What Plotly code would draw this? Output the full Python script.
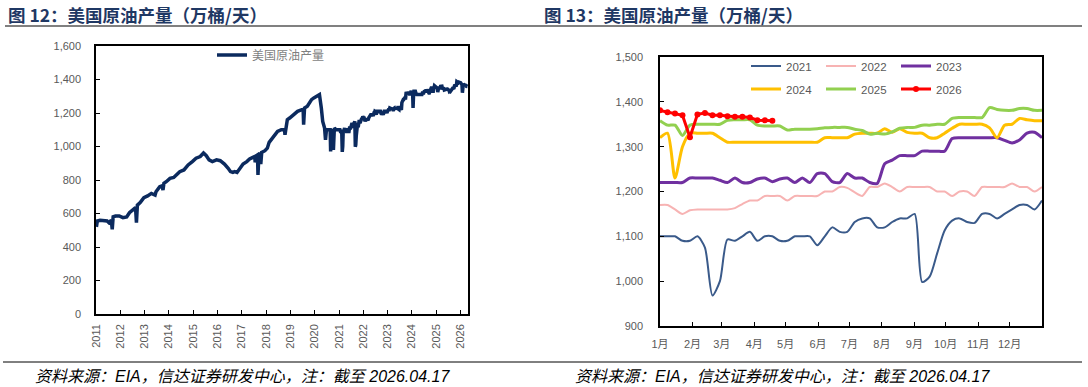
import plotly.graph_objects as go
import pandas as pd

# ---------------- data ----------------
# Left chart: weekly US crude production 2011-2020 (万桶/天)
hist_dates = [
    "2011-01-07", "2011-01-21", "2011-03-04", "2011-05-06", "2011-06-17", "2011-07-15", "2011-08-19",
    "2011-09-02", "2011-09-16", "2011-10-21", "2011-12-16", "2012-02-10", "2012-04-06", "2012-05-18",
    "2012-07-06", "2012-08-17", "2012-08-31", "2012-09-14", "2012-10-26", "2012-12-21", "2013-02-15",
    "2013-04-12", "2013-06-07", "2013-06-21", "2013-08-16", "2013-09-20", "2013-10-04", "2013-10-18",
    "2013-11-22", "2014-01-17", "2014-03-14", "2014-04-25", "2014-06-13", "2014-08-15", "2014-10-17",
    "2014-12-19", "2015-02-13", "2015-04-17", "2015-06-05", "2015-07-17", "2015-08-28", "2015-10-16",
    "2015-12-18", "2016-02-12", "2016-04-15", "2016-06-10", "2016-07-15", "2016-08-19", "2016-09-16",
    "2016-10-21", "2016-11-25", "2017-01-20", "2017-03-17", "2017-04-28", "2017-06-16", "2017-07-14",
    "2017-07-21", "2017-08-04", "2017-08-25", "2017-09-01", "2017-09-15", "2017-10-06", "2017-10-13",
    "2017-10-27", "2017-12-15", "2018-01-19", "2018-02-16", "2018-03-16", "2018-04-20", "2018-05-18",
    "2018-06-22", "2018-08-17", "2018-10-05", "2018-10-12", "2018-10-26", "2018-11-16", "2018-12-21",
    "2019-02-15", "2019-04-19", "2019-06-21", "2019-07-12", "2019-07-19", "2019-08-02", "2019-09-13",
    "2019-10-18", "2019-11-15", "2019-12-20", "2020-01-24", "2020-02-21", "2020-03-13", "2020-04-10",
    "2020-05-01", "2020-05-29", "2020-06-12", "2020-06-26", "2020-07-17", "2020-08-21", "2020-08-28",
    "2020-09-11", "2020-10-02", "2020-10-09", "2020-10-23", "2020-11-20", "2020-12-25",
]
hist_vals = [
    520, 555, 560, 560, 555, 545, 560,
    505, 580, 585, 585, 575, 580, 605,
    625, 635, 545, 650, 665, 695, 705,
    720, 710, 730, 760, 765, 740, 780,
    790, 810, 815, 830, 850, 860, 890,
    910, 930, 940, 961, 945, 920, 910,
    920, 915, 895, 870, 850, 845, 850,
    845, 865, 895, 910, 925, 935, 940,
    905, 945, 950, 830, 950, 955, 895,
    965, 975, 990, 1025, 1040, 1055, 1070,
    1090, 1100, 1100, 1070, 1110, 1160, 1170,
    1190, 1210, 1220, 1220, 1130, 1230, 1240,
    1260, 1280, 1290, 1300, 1310, 1310, 1230,
    1150, 1110, 1040, 1100, 1100, 1100, 970,
    1090, 1100, 980, 1110, 1100, 1100,
]

# Right chart: weekly production by year (week 1..52)
years = ["2021", "2022", "2023", "2024", "2025", "2026"]
v2021 = [1100, 1100, 1100, 1090, 1090, 1100, 1075, 968, 1000, 1093, 1090, 1100, 1110, 1090, 1100, 1100,
         1090, 1090, 1100, 1100, 1100, 1080, 1100, 1120, 1110, 1110, 1132, 1140, 1140, 1120, 1120, 1132,
         1140, 1140, 1150, 998, 1010, 1062, 1113, 1135, 1140, 1132, 1130, 1150, 1150, 1140, 1150, 1160,
         1170, 1170, 1160, 1180]
v2022 = [1170, 1170, 1160, 1150, 1158, 1160, 1160, 1160, 1160, 1160, 1163, 1172, 1180, 1180, 1190, 1190,
         1190, 1180, 1190, 1190, 1190, 1190, 1200, 1200, 1210, 1208, 1198, 1190, 1210, 1210, 1218, 1210,
         1200, 1210, 1210, 1210, 1210, 1200, 1200, 1190, 1200, 1200, 1190, 1210, 1210, 1210, 1210, 1218,
         1210, 1210, 1200, 1210]
v2023 = [1220, 1220, 1220, 1220, 1230, 1230, 1230, 1230, 1225, 1220, 1230, 1220, 1220, 1228, 1230, 1222,
         1228, 1230, 1220, 1230, 1220, 1240, 1240, 1222, 1220, 1240, 1230, 1230, 1220, 1218, 1262, 1270,
         1280, 1280, 1280, 1290, 1290, 1290, 1290, 1318, 1320, 1320, 1320, 1320, 1320, 1320, 1314, 1308,
         1315, 1330, 1332, 1320]
v2024 = [1320, 1330, 1230, 1300, 1330, 1330, 1330, 1330, 1320, 1310, 1310, 1310, 1310, 1310, 1310, 1310,
         1310, 1310, 1310, 1310, 1310, 1310, 1320, 1320, 1320, 1320, 1328, 1330, 1330, 1330, 1340, 1332,
         1340, 1332, 1330, 1330, 1320, 1320, 1330, 1341, 1350, 1350, 1350, 1350, 1342, 1320, 1348, 1350,
         1363, 1360, 1358, 1358]
v2025 = [1358, 1348, 1348, 1325, 1348, 1350, 1350, 1350, 1350, 1359, 1360, 1360, 1360, 1348, 1346, 1346,
         1346, 1337, 1339, 1339, 1339, 1340, 1342, 1343, 1343, 1343, 1339, 1336, 1328, 1330, 1328, 1333,
         1341, 1343, 1343, 1348, 1348, 1350, 1350, 1363, 1365, 1365, 1365, 1365, 1387, 1383, 1381, 1381,
         1385, 1385, 1381, 1381]
v2026 = [1381, 1377, 1374, 1370, 1321, 1372, 1375, 1370, 1370, 1368, 1367, 1367, 1365, 1359, 1359, 1358]
series = [v2021, v2022, v2023, v2024, v2025, v2026]
colors = ["#3A5A8A", "#F7B3B3", "#7030A0", "#FFC000", "#92D050", "#FF0000"]
widths = [2, 2, 3, 3, 3, 3]

month_labels = ["1月", "2月", "3月", "4月", "5月", "6月", "7月", "8月", "9月", "10月", "11月", "12月"]
year_ticks = [str(y) for y in range(2011, 2027)]

title_left = "图 12：美国原油产量（万桶/天）"
title_right = "图 13：美国原油产量（万桶/天）"
source_text = "资料来源：EIA，信达证券研发中心，注：截至 2026.04.17"
left_name = "美国原油产量"

# ---------------- helpers ----------------
W, H = 1088, 387
def px(x):
    return x / W
def py(y):
    return 1 - y / H

def fridays(year, n):
    first = pd.Timestamp(int(year), 1, 1)
    first += pd.Timedelta(days=(4 - first.weekday()) % 7)
    return list(pd.date_range(first, periods=n, freq="7D"))

# left full series
left_x = list(pd.to_datetime(hist_dates))
left_y = list(hist_vals)
for yr, vals in zip(years, series):
    left_x += fridays(yr, len(vals))
    left_y += vals

FONT = "Liberation Sans, Noto Sans CJK SC, sans-serif"
GRAY = "#595959"

fig = go.Figure()
fig.add_trace(go.Scatter(
    x=left_x, y=left_y, mode="lines", name=left_name,
    line=dict(color="#0B2A5E", width=3.5), xaxis="x", yaxis="y", legend="legend"))

for yr, vals, c, w in zip(years, series, colors, widths):
    wk = list(range(1, len(vals) + 1))
    if yr == "2026":
        fig.add_trace(go.Scatter(
            x=wk, y=vals, mode="lines+markers", name=yr,
            line=dict(color=c, width=w), marker=dict(color=c, size=6),
            xaxis="x2", yaxis="y2", legend="legend3"))
    else:
        fig.add_trace(go.Scatter(
            x=wk, y=vals, mode="lines", name=yr,
            line=dict(color=c, width=w, shape="spline", smoothing=0.7),
            xaxis="x2", yaxis="y2",
            legend="legend2" if yr in ("2021", "2022", "2023") else "legend3"))

# month tick positions on the week axis
ms = pd.date_range("2023-01-01", periods=12, freq="MS")
month_pos = [1 + (d.dayofyear - 1) * 51 / 365 for d in ms]

axis_common = dict(showline=True, mirror=True, linecolor="black", linewidth=1.5,
                   ticks="inside", ticklen=4, tickcolor="black", showgrid=False,
                   zeroline=False, automargin=False,
                   tickfont=dict(family=FONT, size=11, color=GRAY))

fig.update_layout(
    template="none",
    width=W, height=H, margin=dict(l=0, r=0, t=0, b=0, pad=0, autoexpand=False),
    paper_bgcolor="white", plot_bgcolor="white",
    xaxis=dict(domain=[px(96), px(468)], type="date",
               range=["2011-01-01", "2026-04-24"],
               tickvals=[pd.Timestamp(int(y), 1, 1) for y in year_ticks], ticktext=year_ticks,
               tickangle=-90, ticklabelstandoff=4, anchor="y", **axis_common),
    yaxis=dict(domain=[py(314), py(46)], range=[0, 1600], dtick=200, tickformat=",d",
               ticklabelstandoff=11, anchor="x", **axis_common),
    xaxis2=dict(domain=[px(660), px(1042)], range=[1, 52], ticklabelstandoff=7,
                tickvals=month_pos, ticktext=month_labels, anchor="y2", **axis_common),
    yaxis2=dict(domain=[py(326), py(57)], range=[900, 1500], dtick=100, tickformat=",d",
                ticklabelstandoff=13, anchor="x2", **axis_common),
    legend=dict(orientation="h", x=px(212), y=py(55), xanchor="left", yanchor="middle",
                bgcolor="rgba(0,0,0,0)", borderwidth=0,
                font=dict(family="Noto Sans CJK SC", size=12, color="#7F7F7F")),
    legend2=dict(orientation="h", x=px(746), y=py(66), xanchor="left", yanchor="middle",
                 bgcolor="rgba(0,0,0,0)", borderwidth=0, entrywidth=30, entrywidthmode="pixels",
                 font=dict(family=FONT, size=11.5, color=GRAY)),
    legend3=dict(orientation="h", x=px(746), y=py(89), xanchor="left", yanchor="middle",
                 bgcolor="rgba(0,0,0,0)", borderwidth=0, entrywidth=30, entrywidthmode="pixels",
                 font=dict(family=FONT, size=11.5, color=GRAY)),
    showlegend=True,
)

# titles
for txt, x in [(title_left, 6), (title_right, 542)]:
    fig.add_annotation(text="<b>" + txt + "</b>", x=px(x), y=py(15), xref="paper", yref="paper",
                       xanchor="left", yanchor="middle", showarrow=False,
                       font=dict(family="Noto Sans CJK SC", size=17.5, color="#1F3864"))
# sources
for x in [33, 573]:
    fig.add_annotation(text=source_text, x=px(x), y=py(376), xref="paper", yref="paper",
                       xanchor="left", yanchor="middle", showarrow=False,
                       font=dict(family="Liberation Sans, Noto Sans CJK SC", size=16, color="black",
                                 style="italic"))

# title underline & bottom rule
fig.add_shape(type="line", xref="paper", yref="paper", x0=px(5), x1=px(1082), y0=py(26), y1=py(26),
              line=dict(color="#808080", width=2))
fig.add_shape(type="line", xref="paper", yref="paper", x0=px(3), x1=px(1082), y0=py(362), y1=py(362),
              line=dict(color="black", width=1))

fig.write_html("out.html")
